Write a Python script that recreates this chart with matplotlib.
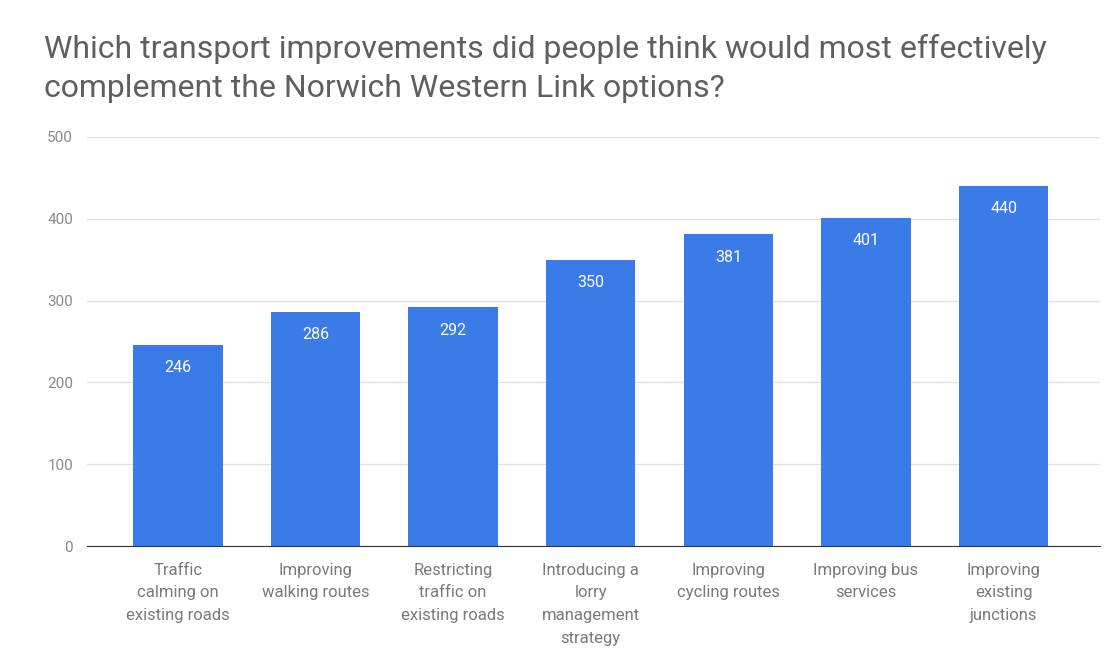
import matplotlib.pyplot as plt

plt.rcParams['font.family'] = ['Roboto', 'DejaVu Sans']

DPI = 100

categories = [
    'Traffic\ncalming on\nexisting roads',
    'Improving\nwalking routes',
    'Restricting\ntraffic on\nexisting roads',
    'Introducing a\nlorry\nmanagement\nstrategy',
    'Improving\ncycling routes',
    'Improving bus\nservices',
    'Improving\nexisting\njunctions',
]
responses = [246, 286, 292, 350, 381, 401, 440]
yticks = [0, 100, 200, 300, 400, 500]

title = ('Which transport improvements did people think would most effectively\n'
         'complement the Norwich Western Link options?')

fig = plt.figure(figsize=(1114/DPI, 653/DPI), dpi=DPI)
ax = fig.add_axes([87/1114, 1 - 546/653, (1100 - 87)/1114, (546 - 137)/653])

x = range(len(categories))
bars = ax.bar(x, responses, width=0.65, color='#3b7be8', zorder=3)
for b, v in zip(bars, responses):
    ax.text(b.get_x() + b.get_width()/2, v - 28, str(v), ha='center', va='center',
            color='white', fontsize=11.5, zorder=4)

ax.set_ylim(0, 500)
ax.set_xlim(-0.66, 6.7)
ax.set_yticks(yticks)
ax.set_yticklabels([str(t) for t in yticks], color='#8a8a8a', fontsize=11)
ax.set_xticks(list(x))
ax.set_xticklabels(categories, color='#7a7a7a', fontsize=12, linespacing=1.65)
ax.tick_params(axis='both', length=0)
ax.tick_params(axis='y', pad=10)
ax.tick_params(axis='x', pad=12)

ax.grid(axis='y', color='#e2e2e2', linewidth=1, zorder=0)
for side in ['top', 'right', 'left']:
    ax.spines[side].set_visible(False)
ax.spines['bottom'].set_color('#333333')
ax.spines['bottom'].set_zorder(5)

fig.text(44/1114, 1 - 34/653, title, ha='left', va='top', fontsize=23,
         color='#5f5f5f', linespacing=1.42)

plt.savefig('out.png', dpi=DPI)
